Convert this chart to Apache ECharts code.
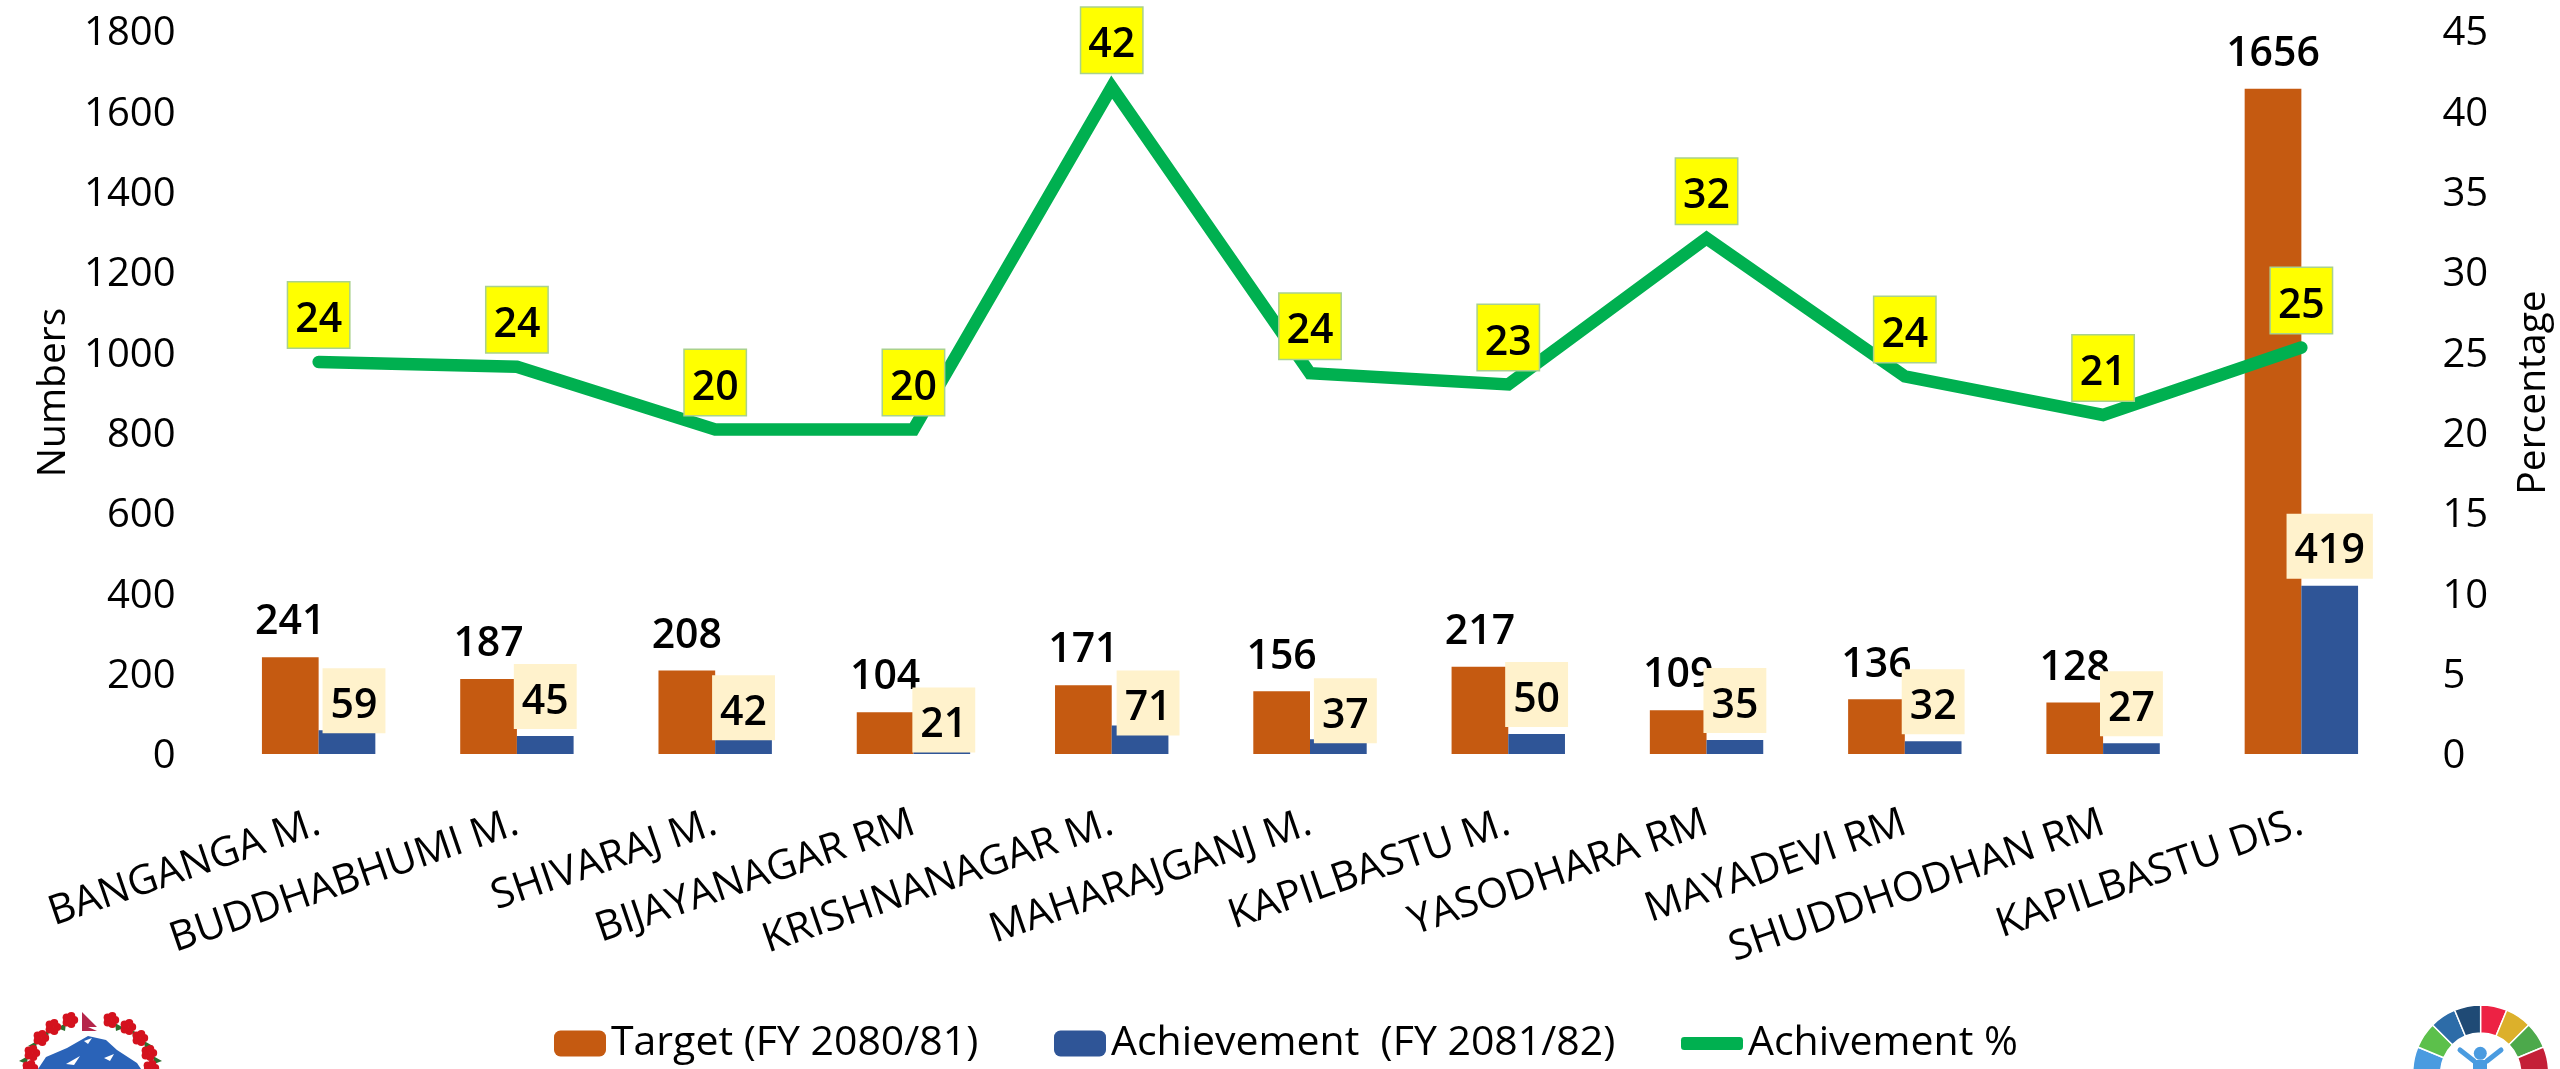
<!DOCTYPE html>
<html>
<head>
<meta charset="utf-8">
<title>Target and achievement by municipality</title>
<style>
  html, body { margin: 0; padding: 0; background: #fff; }
  #chart { width: 2560px; height: 1069px; }
</style>
<script src="https://cdn.jsdelivr.net/npm/echarts@6/dist/echarts.min.js"></script>
</head>
<body>
<div id="chart"></div>
<script>
const places = ['BANGANGA M.', 'BUDDHABHUMI M.', 'SHIVARAJ M.', 'BIJAYANAGAR RM', 'KRISHNANAGAR M.',
  'MAHARAJGANJ M.', 'KAPILBASTU M.', 'YASODHARA RM', 'MAYADEVI RM', 'SHUDDHODHAN RM', 'KAPILBASTU DIS.'];
const target = [241, 187, 208, 104, 171, 156, 217, 109, 136, 128, 1656];
const achievement = [59, 45, 42, 21, 71, 37, 50, 35, 32, 27, 419];
const achievementPct = [24.4, 24.1, 20.2, 20.2, 41.5, 23.7, 23.0, 32.1, 23.5, 21.1, 25.3];

// hand-moved labels in the original, [dx, dy] for the achievement boxes
const achievementNudge = [[7, 10], [0, 0], [0, 10], [2, 14], [8, 17], [7, 11], [0, 0], [0, 0], [0, 0], [0, 0], [0, 0]];

const FONT = '"Open Sans", "Noto Sans", sans-serif';
const chart = echarts.init(document.getElementById('chart'));

// crest and wheel in the bottom corners, cut off by the page edge
function crest() {
  const red = '#d4121e';
  const flowers = [[70, 1020], [53, 1027], [41, 1038], [32, 1053], [30, 1068]];
  const out = [];
  flowers.forEach(f => {
    [f[0], 2 * 90.5 - f[0]].forEach(x => {
      const side = x < 90 ? -1 : 1;
      out.push({ type: 'polygon', shape: { points: [[x + side * 4, f[1] + 3], [x + side * 13, f[1] + 8], [x + side * 5, f[1] + 11]] }, style: { fill: '#2c6e2f' } });
      for (let k = 0; k < 5; k++) {
        const a = k * Math.PI * 2 / 5;
        out.push({ type: 'circle', shape: { cx: x + 4.2 * Math.cos(a), cy: f[1] + 4.2 * Math.sin(a), r: 4 }, style: { fill: red } });
      }
    });
  });
  out.push({ type: 'polygon', shape: { points: [[82, 1012], [97, 1027], [88, 1027], [97, 1031], [82, 1031]] }, style: { fill: '#b5264a' } });
  out.push({
    type: 'polygon',
    shape: { points: [[38, 1069], [46, 1057], [67, 1048], [88, 1036], [106, 1040], [117, 1050], [137, 1063], [141, 1069]] },
    style: { fill: '#2a63b8' }
  });
  out.push({ type: 'polygon', shape: { points: [[84, 1041], [92, 1038], [88, 1044]] }, style: { fill: '#fff' } });
  out.push({ type: 'polygon', shape: { points: [[66, 1064], [80, 1056], [74, 1065]] }, style: { fill: '#fff' } });
  out.push({ type: 'polygon', shape: { points: [[104, 1058], [114, 1054], [110, 1061]] }, style: { fill: '#fff' } });
  return out;
}

function wheel() {
  const colours = ['#4a9be0', '#5cc04b', '#2d6ca8', '#1f4a75', '#ed2244', '#dcb02b', '#4ca94b', '#c41f37', '#ef402b'];
  const step = Math.PI / 8;
  const out = colours.map((c, i) => ({
    type: 'sector',
    shape: { cx: 2480.7, cy: 1073, r: 68, r0: 40, startAngle: Math.PI + i * step, endAngle: Math.PI + (i + 1) * step },
    style: { fill: c, stroke: '#fff', lineWidth: 1.5 }
  }));
  const blue = '#4a9be0';
  out.push({ type: 'circle', shape: { cx: 2480.3, cy: 1053.3, r: 6.5 }, style: { fill: blue } });
  out.push({ type: 'line', shape: { x1: 2460, y1: 1050, x2: 2474, y2: 1061 }, style: { stroke: blue, lineWidth: 5, lineCap: 'round' } });
  out.push({ type: 'line', shape: { x1: 2501, y1: 1050, x2: 2487, y2: 1061 }, style: { stroke: blue, lineWidth: 5, lineCap: 'round' } });
  out.push({ type: 'rect', shape: { x: 2473, y: 1060, width: 14, height: 9 }, style: { fill: blue } });
  return out;
}

const legendBase = {
  top: 1023,
  padding: 0,
  itemWidth: 52,
  itemHeight: 26,
  textStyle: { fontFamily: FONT, fontSize: 41, color: '#000' },
  selectedMode: false
};

const option = {
  animation: false,
  backgroundColor: '#fff',
  textStyle: { fontFamily: FONT },
  // v6 shrinks the grid to fit the labels unless told not to
  grid: { left: 219.5, right: 159.5, top: 31, bottom: 315, outerBoundsMode: 'none' },
  legend: [
    { ...legendBase, left: 554, data: ['Target (FY 2080/81)'] },
    { ...legendBase, left: 1054, data: ['Achievement  (FY 2081/82)'] },
    { ...legendBase, left: 1681, itemWidth: 62, itemHeight: 13, data: [{ name: 'Achivement %', icon: 'roundRect' }] }
  ],
  xAxis: {
    type: 'category',
    data: places,
    axisLine: { show: false },
    axisTick: { show: false },
    axisLabel: { interval: 0, rotate: 19, margin: 68, fontSize: 41, color: '#000', fontFamily: FONT }
  },
  yAxis: [
    {
      type: 'value',
      min: 0,
      max: 1800,
      interval: 200,
      name: 'Numbers',
      nameLocation: 'middle',
      nameRotate: 90,
      nameGap: 142,
      nameTextStyle: { fontSize: 39, color: '#000', fontFamily: FONT },
      axisLine: { show: false },
      axisTick: { show: false },
      splitLine: { show: false },
      axisLabel: { margin: 44, fontSize: 40, color: '#000', fontFamily: FONT, verticalAlign: 'top', lineHeight: 6, formatter: v => String(v) }
    },
    {
      type: 'value',
      min: 0,
      max: 45,
      interval: 5,
      name: 'Percentage',
      nameLocation: 'middle',
      nameRotate: 90,
      nameGap: 114,
      nameTextStyle: { fontSize: 39, color: '#000', fontFamily: FONT },
      axisLine: { show: false },
      axisTick: { show: false },
      splitLine: { show: false },
      axisLabel: { margin: 42, fontSize: 40, color: '#000', fontFamily: FONT, verticalAlign: 'top', lineHeight: 6 }
    }
  ],
  series: [
    {
      type: 'bar',
      name: 'Target (FY 2080/81)',
      data: target,
      barWidth: 56.7,
      barGap: 0,
      itemStyle: { color: '#C55A11' },
      label: { show: true, position: 'top', distance: 14, fontSize: 41, fontWeight: 600, color: '#000', fontFamily: FONT }
    },
    {
      type: 'bar',
      name: 'Achievement  (FY 2081/82)',
      data: achievement.map((v, i) => ({
        value: v,
        label: { offset: achievementNudge[i] }
      })),
      barWidth: 56.7,
      barGap: 0,
      itemStyle: { color: '#2F5597' },
      label: {
        show: true,
        position: 'top',
        distance: 7,
        fontSize: 41,
        fontWeight: 600,
        color: '#000',
        fontFamily: FONT,
        backgroundColor: '#FFF2CC',
        lineHeight: 48,
        padding: [14, 8, 3, 8]
      }
    },
    {
      type: 'line',
      name: 'Achivement %',
      data: achievementPct,
      yAxisIndex: 1,
      symbol: 'circle',
      symbolSize: 1,
      z: 5,
      lineStyle: { color: '#00B050', width: 12.5, cap: 'round', join: 'miter' },
      itemStyle: { color: '#00B050' },
      label: {
        show: true,
        position: 'top',
        distance: 14,
        formatter: p => Math.round(p.value),
        fontSize: 41,
        fontWeight: 600,
        color: '#000',
        fontFamily: FONT,
        backgroundColor: '#FFFF00',
        borderColor: '#A9D18E',
        borderWidth: 1.5,
        lineHeight: 48,
        padding: [14, 7, 3, 7]
      }
    }
  ],
  graphic: { elements: crest().concat(wheel()) }
};
chart.setOption(option);
</script>
</body>
</html>
